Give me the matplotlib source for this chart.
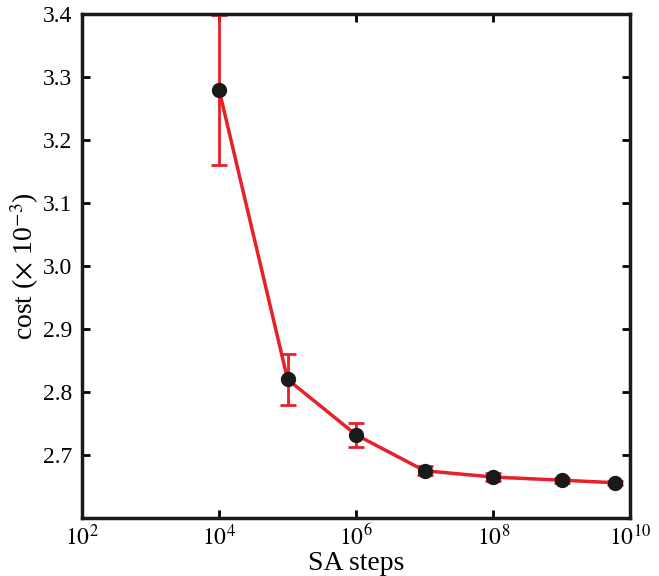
import math

import matplotlib
matplotlib.use('Agg')
import matplotlib.pyplot as plt
from matplotlib.ticker import NullLocator, FixedLocator

# data
steps = [1e4, 1e5, 1e6, 1e7, 1e8, 1e9, 6e9]
cost = [3.280, 2.820, 2.732, 2.675, 2.665, 2.660, 2.656]
cost_err = [0.119, 0.040, 0.019, 0.007, 0.006, 0.004, 0.003]

x_ticks = [1e2, 1e4, 1e6, 1e8, 1e10]
y_ticks = [2.7, 2.8, 2.9, 3.0, 3.1, 3.2, 3.3, 3.4]
y_labels = ['2.7', '2.8', '2.9', '3.0', '3.1', '3.2', '3.3', '3.4']

plt.rcParams['font.family'] = ['Liberation Serif', 'DejaVu Serif']
plt.rcParams['mathtext.fontset'] = 'stix'

red = '#e8202a'

fig = plt.figure(figsize=(6.59, 5.76), dpi=100)
ax = fig.add_axes([0.1244, 0.1007, 0.832, 0.875])

ax.errorbar(steps, cost, yerr=cost_err, fmt='none', ecolor=red,
            elinewidth=2, capsize=6, capthick=2, zorder=2)
ax.plot(steps, cost, '-', color=red, linewidth=2.5, zorder=3)
ax.plot(steps, cost, 'o', color='#1a1a1a', markersize=10, zorder=4)

ax.set_xscale('log')
ax.set_xlim(1e2, 1e10)
ax.set_ylim(2.6, 3.4)
ax.xaxis.set_major_locator(FixedLocator(x_ticks))
ax.xaxis.set_minor_locator(NullLocator())
ax.set_xticklabels([r'$10^{%d}$' % round(math.log10(t)) for t in x_ticks])
ax.set_yticks(y_ticks)
ax.set_yticklabels(y_labels)

ax.tick_params(direction='in', length=6, width=2, labelsize=17,
               top=True, right=True, pad=7)
ax.tick_params(axis='x', pad=5)
for s in ax.spines.values():
    s.set_linewidth(2.5)
    s.set_color('#1a1a1a')

ax.set_xlabel('SA steps', fontsize=20, labelpad=0)
ax.set_ylabel(r'cost ($\times$ 10$^{-3}$)', fontsize=20, labelpad=1)

fig.savefig('out.png', dpi=100)
